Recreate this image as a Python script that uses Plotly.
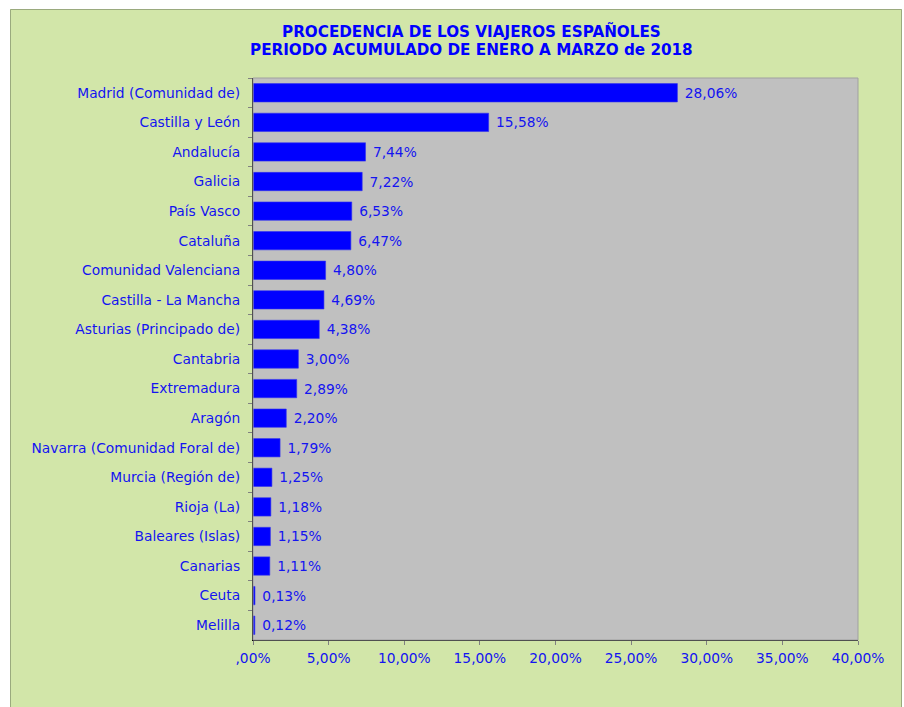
import plotly.graph_objects as go

# Datos: procedencia de los viajeros españoles (enero-marzo 2018)
regiones = [
    "Madrid (Comunidad de)", "Castilla y León", "Andalucía", "Galicia",
    "País Vasco", "Cataluña", "Comunidad Valenciana", "Castilla - La Mancha",
    "Asturias (Principado de)", "Cantabria", "Extremadura", "Aragón",
    "Navarra (Comunidad Foral de)", "Murcia (Región de)", "Rioja (La)",
    "Baleares (Islas)", "Canarias", "Ceuta", "Melilla",
]
porcentajes = [
    28.06, 15.58, 7.44, 7.22, 6.53, 6.47, 4.80, 4.69, 4.38,
    3.00, 2.89, 2.20, 1.79, 1.25, 1.18, 1.15, 1.11, 0.13, 0.12,
]
tick_vals = [0, 5, 10, 15, 20, 25, 30, 35, 40]
tick_text = [",00%", "5,00%", "10,00%", "15,00%", "20,00%",
             "25,00%", "30,00%", "35,00%", "40,00%"]
titulo = ["PROCEDENCIA DE LOS VIAJEROS ESPAÑOLES",
          "PERIODO ACUMULADO DE ENERO A MARZO de 2018"]

AZUL = "#0000FF"
TEXTO = "#1414F0"
VERDE = "#D2E6A9"
FUENTE = "DejaVu Sans"

W, H = 904, 707
L, R, T, B = 253, 904 - 858, 78, 707 - 640


def px_x(px):
    """Convert a pixel x position to paper coordinates."""
    return (px - L) / (W - L - R)


def px_y(py):
    """Convert a pixel y position to paper coordinates."""
    return (H - B - py) / (H - T - B)


etiquetas = ["\u00a0" + f"{v:.2f}".replace(".", ",") + "%" for v in porcentajes]

fig = go.Figure(
    go.Bar(
        x=porcentajes,
        y=regiones,
        orientation="h",
        width=0.62,
        marker=dict(color=AZUL, line=dict(color="#3333EE", width=0.6)),
        text=etiquetas,
        textposition="outside",
        textfont=dict(family=FUENTE, size=13.8, color=TEXTO),
        cliponaxis=False,
    )
)

fig.update_layout(
    width=W,
    height=H,
    margin=dict(l=L, r=R, t=T, b=B),
    paper_bgcolor=VERDE,
    plot_bgcolor="#C0C0C0",
    showlegend=False,
    font=dict(family=FUENTE, size=13.8, color=TEXTO),
    xaxis=dict(
        range=[0, 40],
        tickvals=tick_vals,
        ticktext=tick_text,
        showgrid=False,
        zeroline=False,
        showline=True,
        linecolor="black",
        linewidth=1,
        ticks="outside",
        ticklen=4,
        tickcolor="#808080",
        ticklabelstandoff=1,
        tickfont=dict(family=FUENTE, size=13.8, color=TEXTO),
    ),
    yaxis=dict(
        autorange="reversed",
        showgrid=False,
        showline=True,
        linecolor="black",
        linewidth=1,
        ticks="outside",
        ticklen=4,
        tickcolor="#808080",
        tickson="boundaries",
        ticklabelstandoff=9,
        tickfont=dict(family=FUENTE, size=13.8, color=TEXTO),
    ),
    annotations=[
        dict(
            text=f"<b>{linea}</b>",
            xref="paper", yref="paper",
            x=px_x(471), y=px_y(yc),
            xanchor="center", yanchor="middle",
            showarrow=False,
            font=dict(family=FUENTE, size=15.2, color=AZUL),
        )
        for linea, yc in zip(titulo, [32, 50])
    ],
    shapes=[
        # franjas blancas fuera del área del gráfico
        dict(type="rect", xref="paper", yref="paper",
             x0=px_x(-2), x1=px_x(910), y0=px_y(9), y1=px_y(-2),
             fillcolor="white", line=dict(width=0), layer="below"),
        dict(type="rect", xref="paper", yref="paper",
             x0=px_x(-2), x1=px_x(10), y0=px_y(720), y1=px_y(-2),
             fillcolor="white", line=dict(width=0), layer="below"),
        dict(type="rect", xref="paper", yref="paper",
             x0=px_x(902), x1=px_x(910), y0=px_y(720), y1=px_y(-2),
             fillcolor="white", line=dict(width=0), layer="below"),
        # borde del área del gráfico
        dict(type="rect", xref="paper", yref="paper",
             x0=px_x(10.5), x1=px_x(901.5), y0=px_y(730), y1=px_y(9.5),
             line=dict(color="#9AAA7E", width=1)),
        # borde del área de trazado
        dict(type="rect", xref="paper", yref="paper",
             x0=0, x1=1, y0=0, y1=1,
             line=dict(color="#A0A0A0", width=1)),
    ],
)

# drop the default page margin so the figure fills the window
fig.write_html(
    "out.html",
    config={"displayModeBar": False},
    post_script="document.body.style.margin='0';document.body.style.overflow='hidden';",
)
